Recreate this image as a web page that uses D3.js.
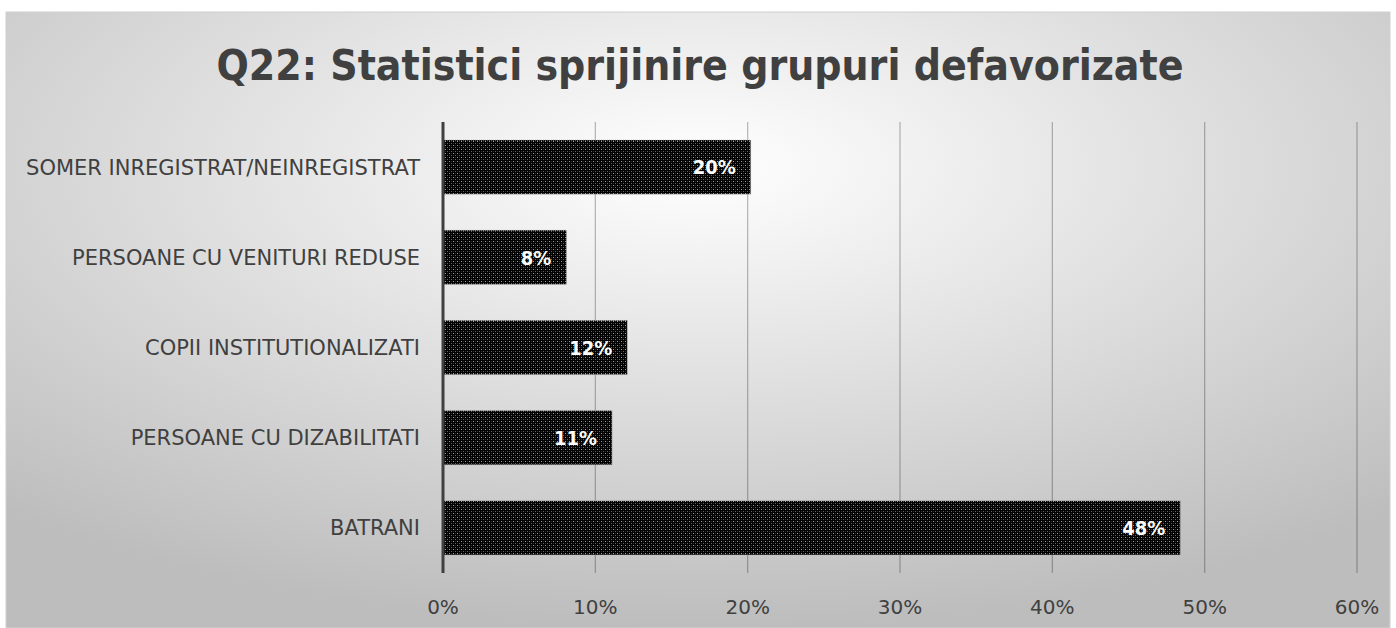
<!DOCTYPE html>
<html lang="ro">
<head>
<meta charset="UTF-8">
<title>Q22</title>
<style>
  body { margin: 0; background: #fff; }
  svg { display: block; }
  text { font-family: "DejaVu Sans", sans-serif; }
  .cond { font-family: "DejaVu Sans Condensed", "DejaVu Sans", sans-serif; }
</style>
</head>
<body>
<svg width="1396" height="628"></svg>
<script src="https://d3js.org/d3.v7.min.js"></script>
<script>
// date
const categories = ["SOMER INREGISTRAT/NEINREGISTRAT", "PERSOANE CU VENITURI REDUSE",
  "COPII INSTITUTIONALIZATI", "PERSOANE CU DIZABILITATI", "BATRANI"];
const values = [20.2, 8.1, 12.1, 11.1, 48.4];
const labels = ["20%", "8%", "12%", "11%", "48%"];
const ticks = [0, 10, 20, 30, 40, 50, 60];

const svg = d3.select("svg");
const defs = svg.append("defs");

// fundal cu gradient radial
const grad = defs.append("radialGradient")
    .attr("id", "bg").attr("cx", "50%").attr("cy", "25%").attr("r", "75%");
grad.append("stop").attr("offset", "0%").attr("stop-color", "#ffffff");
grad.append("stop").attr("offset", "100%").attr("stop-color", "#bdbdbd");

// model puncte pentru bare
const pat = defs.append("pattern")
    .attr("id", "dots").attr("width", 4).attr("height", 4)
    .attr("patternUnits", "userSpaceOnUse");
pat.append("rect").attr("width", 4).attr("height", 4).attr("fill", "#000");
[[1, 1, "#30d0dc"], [3, 3, "#168690"], [3, 1, "#0a3c40"], [1, 3, "#0a3c40"]]
  .forEach(([px, py, c]) => pat.append("rect")
    .attr("x", px).attr("y", py).attr("width", 1).attr("height", 1).attr("fill", c));

svg.append("rect")
    .attr("x", 6).attr("y", 12).attr("width", 1384).attr("height", 616)
    .attr("fill", "url(#bg)").attr("stroke", "#d0d0d0");

svg.append("text")
    .attr("class", "cond")
    .attr("x", 700).attr("y", 80)
    .attr("text-anchor", "middle")
    .attr("font-size", 42.3).attr("font-weight", "bold")
    .attr("fill", "#404040")
    .text("Q22: Statistici sprijinire grupuri defavorizate");

const x = d3.scaleLinear().domain([0, 60]).range([443, 1357]);
const y = d3.scaleBand().domain(categories).range([122, 573])
    .paddingInner(0.4).paddingOuter(0.2);

// linii de grila
svg.append("g").selectAll("line")
    .data(ticks.slice(1))
    .join("line")
    .attr("x1", d => x(d)).attr("x2", d => x(d))
    .attr("y1", 122).attr("y2", 573)
    .attr("stroke", "rgba(0,0,0,0.28)").attr("stroke-width", 1.2);

svg.append("g").selectAll("text")
    .data(ticks)
    .join("text")
    .attr("x", d => x(d)).attr("y", 614)
    .attr("text-anchor", "middle")
    .attr("font-size", 20).attr("fill", "#404040")
    .text(d => d + "%");

// bare
svg.append("g").selectAll("rect")
    .data(values)
    .join("rect")
    .attr("x", x(0))
    .attr("y", (d, i) => y(categories[i]))
    .attr("width", d => x(d) - x(0))
    .attr("height", y.bandwidth())
    .attr("fill", "url(#dots)")
    .attr("stroke", "#bbb").attr("stroke-width", 0.8).attr("stroke-dasharray", "1,1");

svg.append("g").selectAll("text")
    .data(values)
    .join("text")
    .attr("class", "cond")
    .attr("x", d => x(d) - 15)
    .attr("y", (d, i) => y(categories[i]) + y.bandwidth() / 2)
    .attr("dy", "0.36em")
    .attr("text-anchor", "end")
    .attr("font-size", 20).attr("font-weight", "bold").attr("fill", "#fff")
    .text((d, i) => labels[i]);

// etichete categorii
svg.append("g").selectAll("text")
    .data(categories)
    .join("text")
    .attr("x", 420)
    .attr("y", d => y(d) + y.bandwidth() / 2)
    .attr("dy", "0.36em")
    .attr("text-anchor", "end")
    .attr("font-size", 21).attr("fill", "#404040")
    .text(d => d);

// axa verticala
svg.append("line")
    .attr("x1", x(0)).attr("x2", x(0)).attr("y1", 122).attr("y2", 573)
    .attr("stroke", "#404040").attr("stroke-width", 3);
</script>
</body>
</html>
